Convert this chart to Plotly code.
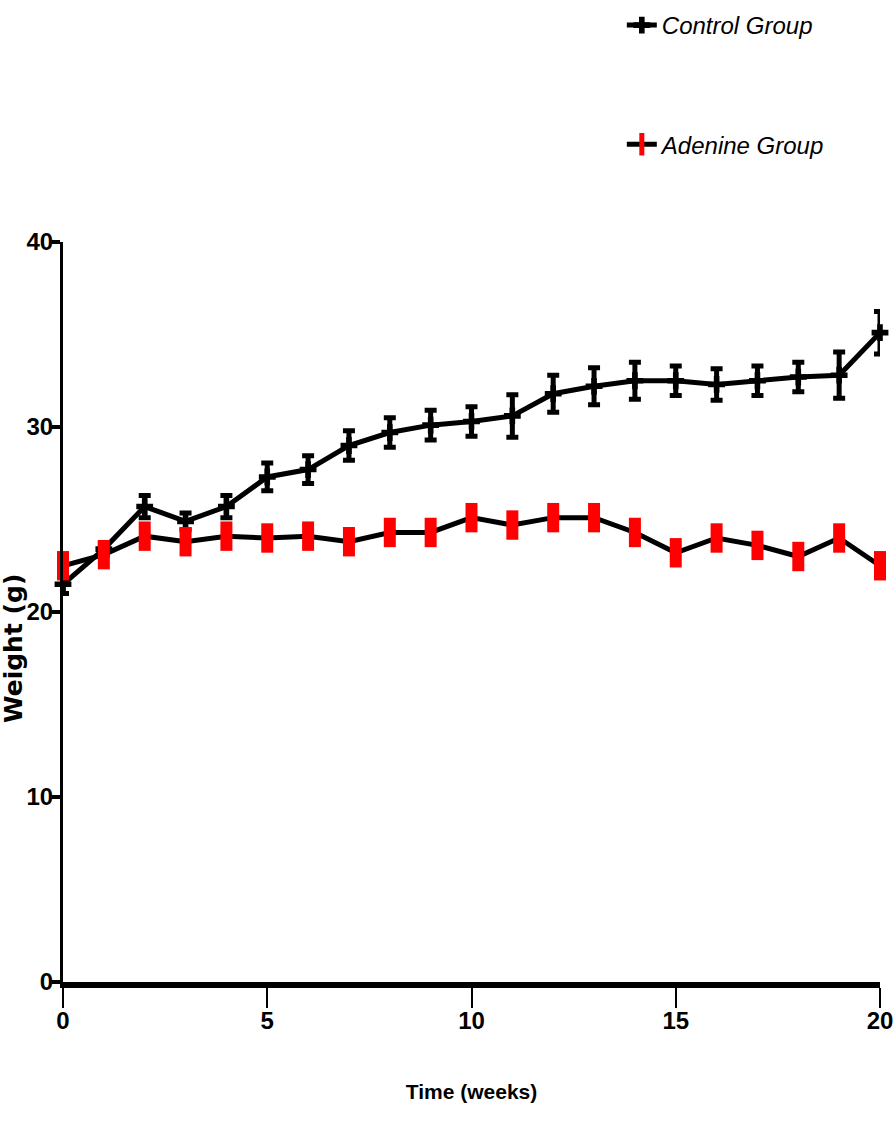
import plotly.graph_objects as go

weeks = list(range(21))
control_mean = [21.5, 23.4, 25.7, 24.9, 25.7, 27.3, 27.7, 29.0, 29.7, 30.1, 30.3,
                30.6, 31.8, 32.2, 32.5, 32.5, 32.3, 32.5, 32.7, 32.8, 35.1]
control_err = [0.5, 0.3, 0.6, 0.45, 0.6, 0.75, 0.75, 0.8, 0.8, 0.8, 0.8,
               1.15, 1.0, 1.0, 1.0, 0.8, 0.85, 0.8, 0.8, 1.25, 1.15]
adenine_mean = [22.5, 23.1, 24.1, 23.8, 24.1, 24.0, 24.1, 23.8, 24.3, 24.3, 25.1,
                24.7, 25.1, 25.1, 24.3, 23.2, 24.0, 23.6, 23.0, 24.0, 22.5]

x_ticks = [0, 5, 10, 15, 20]
y_ticks = [0, 10, 20, 30, 40]

FONT = "Liberation Sans Narrow, Arial Narrow, Liberation Sans, Arial, sans-serif"

fig = go.Figure()

fig.add_trace(go.Scatter(
    x=weeks, y=control_mean,
    mode="lines+markers",
    name="Control Group",
    legendgroup="c",
    line=dict(color="black", width=5),
    marker=dict(symbol="cross", size=14, color="black"),
    error_y=dict(type="data", array=control_err, color="black",
                 thickness=5, width=6),
    cliponaxis=False,
))

fig.add_trace(go.Scatter(
    x=weeks, y=adenine_mean,
    mode="lines+markers",
    name="Adenine Group",
    legendgroup="a",
    line=dict(color="black", width=5),
    marker=dict(symbol="line-ns", size=21, color="red",
                line=dict(color="red", width=12)),
    cliponaxis=False,
))

fig.update_layout(
    width=894, height=1139,
    margin=dict(l=63, r=14, t=242, b=157, autoexpand=False),
    paper_bgcolor="white",
    plot_bgcolor="white",
    showlegend=True,
    legend=dict(
        x=0.684, y=1.323, xanchor="left", yanchor="top",
        font=dict(family=FONT, size=24, color="black", style="italic"),
        tracegroupgap=85,
        bgcolor="rgba(0,0,0,0)",
    ),
    annotations=[dict(
        text="<b>Weight (g)</b>",
        xref="paper", yref="y",
        x=0, y=18.0, xshift=-50,
        xanchor="center", yanchor="middle",
        textangle=-90, showarrow=False,
        font=dict(family="DejaVu Sans", size=25, color="black"),
    )],
)

fig.update_xaxes(
    range=[0, 20],
    tickvals=x_ticks,
    automargin=False,
    ticks="outside", ticklen=20, tickwidth=2, tickcolor="black",
    ticklabeloverflow="allow",
    ticklabelstandoff=-8,
    showline=True, linewidth=6, linecolor="black",
    showgrid=False, zeroline=False,
    tickfont=dict(family=FONT, size=24, color="black", weight="bold"),
    title=dict(text="<b>Time (weeks)</b>", standoff=54,
               font=dict(family=FONT, size=21, color="black")),
)

fig.update_yaxes(
    range=[0, 40],
    tickvals=y_ticks,
    automargin=False,
    ticks="outside", ticklen=8, tickwidth=4, tickcolor="black",
    ticklabeloverflow="allow",
    ticklabelstandoff=-6,
    showline=True, linewidth=3, linecolor="black",
    showgrid=False, zeroline=False,
    tickfont=dict(family=FONT, size=24, color="black", weight="bold"),
)

# drop the default body margin so the figure sits at the window's corner
fig.write_html(
    "out.html",
    config={"displayModeBar": False},
    post_script="document.body.style.margin = '0';",
)
